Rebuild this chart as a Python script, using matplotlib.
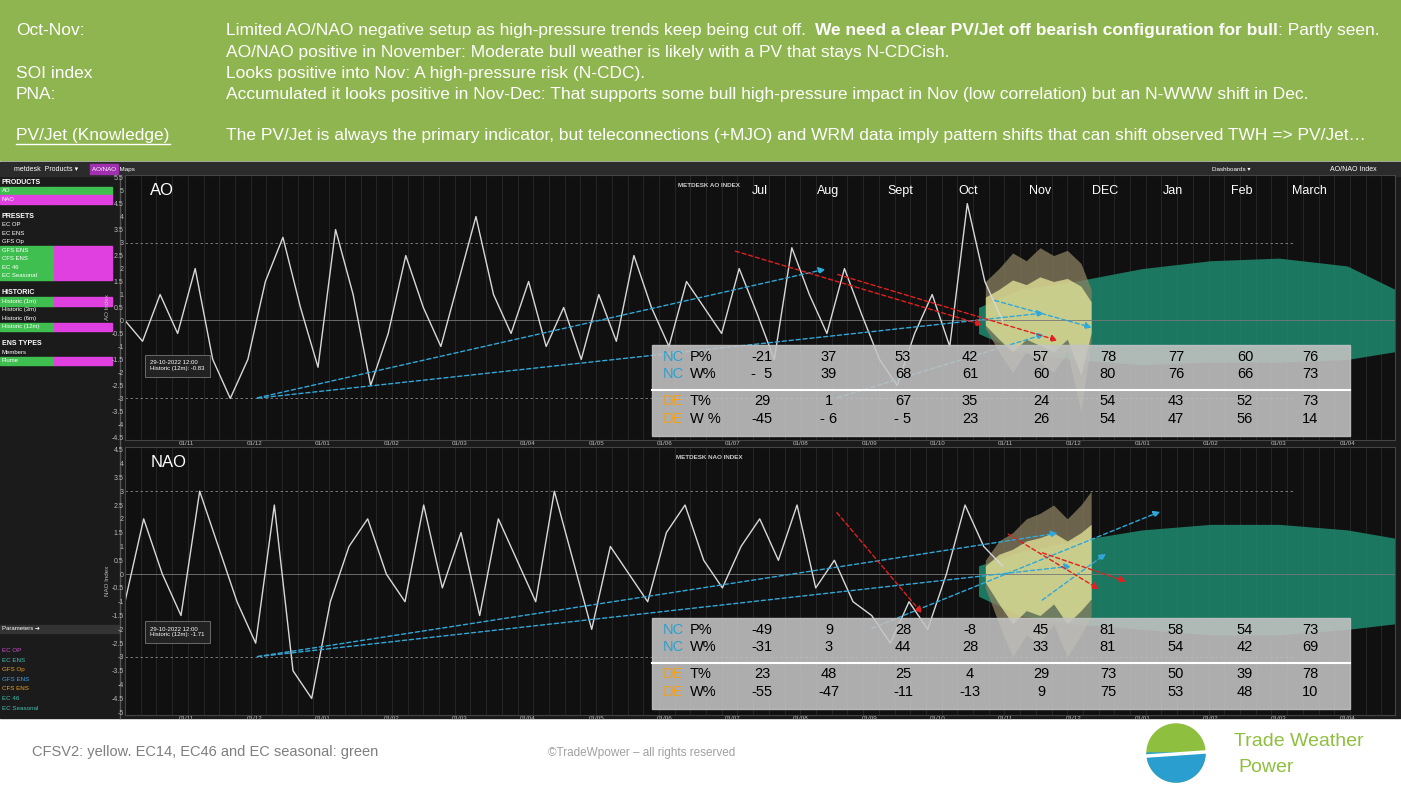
import numpy as np
import matplotlib.pyplot as plt
from matplotlib.patches import Rectangle

plt.rcParams['font.family'] = ['Liberation Sans', 'DejaVu Sans']

W, H = 1401, 789

# ---- data ----
banner_keys = ["Oct-Nov:", "", "SOI index", "PNA:", "", "PV/Jet (Knowledge)"]
banner_text = [
    "",
    "AO/NAO positive in November: Moderate bull weather is likely with a PV that stays N-CDCish.",
    "Looks positive into Nov: A high-pressure risk (N-CDC).",
    "Accumulated it looks positive in Nov-Dec: That supports some bull high-pressure impact in Nov (low correlation) but an N-WWW shift in Dec.",
    "",
    "The PV/Jet is always the primary indicator, but teleconnections (+MJO) and WRM data imply pattern shifts that can shift observed TWH => PV/Jet\u2026",
]
first_line = [("Limited AO/NAO negative setup as high-pressure trends keep being cut off. ", 'normal'),
              ("We need a clear PV/Jet off bearish configuration for bull", 'bold'),
              (": Partly seen.", 'normal')]
month_ticks = ["01/11", "01/12", "01/01", "01/02", "01/03", "01/04", "01/05", "01/06", "01/07",
               "01/08", "01/09", "01/10", "01/11", "01/12", "01/01", "01/02", "01/03", "01/04"]
month_names = ["Jul", "Aug", "Sept", "Oct", "Nov", "DEC", "Jan", "Feb", "March"]
month_name_x = [8.4, 9.4, 10.45, 11.45, 12.5, 13.45, 14.45, 15.45, 16.45]

ao_obs = [0, -0.8, 1.0, -0.5, 2.0, -1.5, -3.0, -1.5, 1.5, 3.2, 0.5, -1.8, 3.5, 1.0, -2.5, -0.5,
          2.5, 0.5, -1.0, 1.5, 4.0, 1.0, -0.5, 1.5, -1.0, 0.5, -1.5, 1.0, -0.8, 2.5, 0.5, -1.0,
          1.5, 0.5, -0.5, 2.0, 0.3, -1.5, 2.8, 1.0, -0.5, 2.0, 0.2, -1.5, -2.5, -0.5, 1.0, -1.0,
          4.5, 1.5, 0.0]
nao_obs = [-1, 2, 0, -1.5, 3, 1, -1, -2.5, 2.5, -3.5, -4.5, -1, 1, 2, 0, -1, 2.5, -0.5, 1.5,
           -1.5, 2, 0.5, -1, 3, 0.5, -2, 1, 0, -1, 1.5, 2.5, 0.5, -0.5, 1, 2, 0.5, 2.5, -0.5,
           0.5, -1, -1.5, -2.5, -1, -2, 0, 2.5, 1, 0.3]

plume_x = [11.7, 11.9, 12.1, 12.3, 12.5, 12.7, 12.9, 13.1, 13.25]
ao_pl_hi = [1.5, 2.0, 2.6, 2.3, 2.8, 2.5, 2.7, 2.2, 1.2]
ao_pl_lo = [-0.3, -1.2, -2.0, -1.2, -1.6, -2.0, -1.2, -3.5, -0.8]
nao_pl_hi = [0.5, 1.2, 1.5, 2.0, 2.2, 2.5, 2.0, 2.5, 3.0]
nao_pl_lo = [-0.5, -1.8, -3.0, -2.2, -2.5, -1.8, -3.0, -2.2, -1.5]

green_x = [11.6, 12.2, 13.0, 14.0, 15.0, 16.0, 17.0, 17.7]
ao_gr_hi = [0.5, 1.2, 1.5, 2.0, 2.3, 2.4, 2.1, 1.2]
ao_gr_lo = [-0.5, -1.2, -1.5, -1.7, -1.6, -1.6, -1.5, -1.2]
nao_gr_hi = [0.3, 0.8, 1.2, 1.6, 1.8, 1.8, 1.6, 1.3]
nao_gr_lo = [-0.8, -1.5, -1.8, -2.0, -2.2, -2.2, -2.0, -1.8]

ao_table = [["-21", "37", "53", "42", "57", "78", "77", "60", "76"],
            ["-  5", "39", "68", "61", "60", "80", "76", "66", "73"],
            ["29", "1", "67", "35", "24", "54", "43", "52", "73"],
            ["-45", "- 6", "- 5", "23", "26", "54", "47", "56", "14"]]
nao_table = [["-49", "9", "28", "-8", "45", "81", "58", "54", "73"],
             ["-31", "3", "44", "28", "33", "81", "54", "42", "69"],
             ["23", "48", "25", "4", "29", "73", "50", "39", "78"],
             ["-55", "-47", "-11", "-13", "9", "75", "53", "48", "10"]]
row_keys = [("NC", "P%"), ("NC", "W%"), ("DE", "T%"), ("DE", "W %")]
nao_row_keys = [("NC", "P%"), ("NC", "W%"), ("DE", "T%"), ("DE", "W%")]

# arrows (x in months, y in index units)
ao_blue = [((1.0, -3.0), (9.4, 2.0)), ((1.0, -3.0), (12.6, 0.3)), ((9.5, -3.0), (12.6, -0.5)),
           ((11.8, 0.8), (13.3, -0.3))]
ao_red = [((8.0, 2.7), (11.7, -0.2)), ((9.5, 1.8), (12.8, -0.8))]
nao_blue = [((1.0, -3.0), (13.0, 0.3)), ((1.0, -3.0), (12.8, 1.5)), ((10.0, -2.0), (14.3, 2.3)),
            ((12.5, -1.0), (13.5, 0.8))]
nao_red = [((9.5, 2.3), (10.8, -1.5)), ((12.0, 1.5), (13.4, -0.6)), ((12.5, 0.8), (13.8, -0.3))]

# ---- figure ----
fig = plt.figure(figsize=(W / 100, H / 100), dpi=100)
bg = fig.add_axes([0, 0, 1, 1])
bg.set_xlim(0, W)
bg.set_ylim(H, 0)
bg.axis('off')

FS = 12.5
# banner
bg.add_patch(Rectangle((0, 0), W, 160, color='#8fb550'))
ys = [30, 52, 73, 94, 115, 135]
for key, txt, y in zip(banner_keys, banner_text, ys):
    bg.text(16, y, key, color='white', fontsize=FS, va='center')
    bg.text(226, y, txt, color='white', fontsize=FS, va='center')
bg.plot([16, 170], [144, 144], color='white', lw=1)
renderer = fig.canvas.get_renderer()
xpos = 226
for part, wt in first_line:
    t = bg.text(xpos, 30, part, color='white', fontsize=FS, va='center', fontweight=wt)
    xpos += t.get_window_extent(renderer).width + (4 if part.endswith(" ") else 0)

# screenshot area
bg.add_patch(Rectangle((0, 162), W, 556, color='#1b1b1b'))
bg.add_patch(Rectangle((0, 162), W, 14, color='#2b2b2b'))
bg.text(14, 169, "metdesk  Products \u25be", color='white', fontsize=5, va='center')
bg.add_patch(Rectangle((90, 164), 28, 10, color='#a030b0'))
bg.text(92, 169, "AO/NAO  Maps", color='white', fontsize=4.5, va='center')
bg.text(1330, 169, "AO/NAO Index", color='white', fontsize=5, va='center')
bg.text(1212, 169, "Dashboards \u25be", color='white', fontsize=4.5, va='center')

# sidebar
side = [("PRODUCTS", None), ("AO", '#3fbf4f'), ("NAO", '#e040e0'), ("", None), ("PRESETS", None),
        ("EC OP", None), ("EC ENS", None), ("GFS Op", None), ("GFS ENS", '#3fbf4f'),
        ("CFS ENS", '#3fbf4f'), ("EC 46", '#3fbf4f'), ("EC Seasonal", '#3fbf4f'), ("", None),
        ("HISTORIC", None), ("Historic (1m)", '#3fbf4f'), ("Historic (3m)", None),
        ("Historic (6m)", None), ("Historic (12m)", '#3fbf4f'), ("", None), ("ENS TYPES", None),
        ("Members", None), ("Plume", '#3fbf4f')]
magenta_right = ("NAO", "GFS ENS", "CFS ENS", "EC 46", "EC Seasonal", "Historic (1m)",
                 "Historic (12m)", "Plume")
y = 178
for name, col in side:
    h = 8.5
    if col:
        bg.add_patch(Rectangle((0, y), 54, h, color=col))
        bg.add_patch(Rectangle((54, y), 58, h, color='#e040e0' if name in magenta_right else col))
    head = name in ("PRODUCTS", "PRESETS", "HISTORIC", "ENS TYPES")
    bg.text(2, y + h / 2, name, color='white', fontsize=5 if head else 4.3,
            fontweight='bold' if head else 'normal', va='center')
    y += h
bg.plot([120, 120], [176, 718], color='#555555', lw=1)
bg.add_patch(Rectangle((0, 625), 120, 8, color='#333333'))
bg.text(2, 629, "Parameters \u2794", color='white', fontsize=4.3, va='center')
params = ["EC OP", "EC ENS", "GFS Op", "GFS ENS", "CFS ENS", "EC 46", "EC Seasonal"]
pcols = ['#d050d0', '#40c0b0', '#f0a020', '#40a0e0', '#f0a020', '#40c0b0', '#40c0b0']
for i, (p, c) in enumerate(zip(params, pcols)):
    bg.text(2, 651 + i * 9.5, p, color=c, fontsize=4.5, va='center')


def panel(rect, obs, pl_hi, pl_lo, gr_hi, gr_lo, ylim, yticks, label, title,
          blue, red, info, ylab):
    x0, y0, x1, y1 = rect
    ax = fig.add_axes([x0 / W, 1 - y1 / H, (x1 - x0) / W, (y1 - y0) / H])
    ax.set_facecolor('#101010')
    ax.set_xlim(-0.9, 17.7)
    ax.set_ylim(*ylim)
    for v in np.arange(-0.9, 17.7, 0.23):
        ax.axvline(v, color='#2a2a2a', lw=0.6, zorder=0)
    ax.axhline(0, color='#777777', lw=0.6)
    ax.axhline(3, color='#888888', lw=0.6, ls=(0, (3, 3)), xmax=0.92)
    ax.axhline(-3, color='#888888', lw=0.6, ls=(0, (3, 3)), xmax=0.92)
    ax.fill_between(green_x, gr_lo, gr_hi, color='#1f8a70', alpha=0.85, lw=0)
    ax.fill_between(plume_x, pl_lo, pl_hi, color='#8a8060', alpha=0.75, lw=0)
    ax.fill_between(plume_x, np.array(pl_lo) * 0.6, np.array(pl_hi) * 0.6, color='#f0f0a0',
                    alpha=0.7, lw=0)
    ax.plot(np.linspace(-0.9, 11.95, len(obs)), obs, color='#d8d8d8', lw=1)
    for (a, b) in blue:
        ax.annotate("", xy=b, xytext=a, arrowprops=dict(arrowstyle='-|>', color='#30a8d8',
                                                        ls=(0, (3, 2)), lw=1))
    for (a, b) in red:
        ax.annotate("", xy=b, xytext=a, arrowprops=dict(arrowstyle='-|>', color='#e02020',
                                                        ls=(0, (3, 2)), lw=1))
    ax.set_xticks(range(len(month_ticks)))
    ax.set_xticklabels(month_ticks, fontsize=4.5, color='#bbbbbb')
    ax.set_yticks(yticks)
    ax.set_yticklabels([f"{t:g}" for t in yticks], fontsize=5, color='#bbbbbb')
    ax.tick_params(length=0, pad=1)
    ax.set_ylabel(ylab, fontsize=4.5, color='#bbbbbb', labelpad=1)
    for s in ax.spines.values():
        s.set_color('#444444')
    ax.text(0.02, 0.97, label, transform=ax.transAxes, color='white', fontsize=12, va='top')
    ax.text(0.46, 0.97, title, transform=ax.transAxes, color='#cccccc', fontsize=4.5,
            va='top', ha='center', fontweight='bold')
    if label == "AO":
        for m, xm in zip(month_names, month_name_x):
            ax.text(xm, 5.0, m, color='white', fontsize=9, ha='center', va='center')
    ax.text(0.02, 0.3 if label == "AO" else 0.33, info, transform=ax.transAxes, color='white',
            fontsize=4.3, va='top', bbox=dict(fc='#222222', ec='#888888', lw=0.5))
    return ax


panel((125, 175, 1395, 440), ao_obs, ao_pl_hi, ao_pl_lo, ao_gr_hi, ao_gr_lo, (-4.6, 5.6),
      np.arange(-4.5, 5.6, 0.5), "AO", "METDESK AO INDEX", ao_blue, ao_red,
      "29-10-2022 12:00\nHistoric (12m): -0.83", "AO Index")
panel((125, 447, 1395, 715), nao_obs, nao_pl_hi, nao_pl_lo, nao_gr_hi, nao_gr_lo, (-5.1, 4.6),
      np.arange(-5, 4.6, 0.5), "NAO", "METDESK NAO INDEX", nao_blue, nao_red,
      "29-10-2022 12:00\nHistoric (12m): -1.71", "NAO Index")

# overlay for tables (drawn above the panels)
ov = fig.add_axes([0, 0, 1, 1])
ov.set_xlim(0, W)
ov.set_ylim(H, 0)
ov.axis('off')
ov.patch.set_alpha(0)
col_x = [762, 829, 903, 970, 1041, 1108, 1176, 1245, 1310]
for table, keys, box_y in [(ao_table, row_keys, 345), (nao_table, nao_row_keys, 618)]:
    ov.add_patch(Rectangle((652, box_y), 698, 91, color='#c4c4c4', alpha=0.88))
    ov.plot([652, 1350], [box_y + 45, box_y + 45], color='white', lw=1.5)
    row_y = [box_y + 12, box_y + 29, box_y + 56, box_y + 74]
    for r, (vals, (k1, k2)) in enumerate(zip(table, keys)):
        c = '#2aa0d0' if k1 == "NC" else '#f0a020'
        ov.text(663, row_y[r], k1, color=c, fontsize=10.5, va='center')
        ov.text(690, row_y[r], k2, color='black', fontsize=10.5, va='center')
        for v, xx in zip(vals, col_x):
            ov.text(xx, row_y[r], v, color='black', fontsize=10.5, va='center', ha='center')

# footer
ov.text(32, 752, "CFSV2: yellow. EC14, EC46 and EC seasonal: green", color='#7f7f7f',
        fontsize=10.5, va='center')
ov.text(548, 753, "\u00a9TradeWpower \u2013 all rights reserved", color='#a0a0a0', fontsize=8.5,
        va='center')
th = np.linspace(0, 2 * np.pi, 100)
ov.fill(1176 + 29 * np.cos(th), 753 + 29 * np.sin(th), color='#8fbf3f')
half = np.linspace(0, np.pi, 50)
ov.fill(1176 + 29 * np.cos(half), 753 + 29 * np.sin(half), color='#2a9fcf')
ov.plot([1147, 1205], [756, 752], color='white', lw=2.5)
ov.text(1234, 742, "Trade Weather", color='#8fbf3f', fontsize=14, va='center')
ov.text(1238, 767, "Power", color='#8fbf3f', fontsize=14, va='center')

fig.savefig("out.png", dpi=100)
